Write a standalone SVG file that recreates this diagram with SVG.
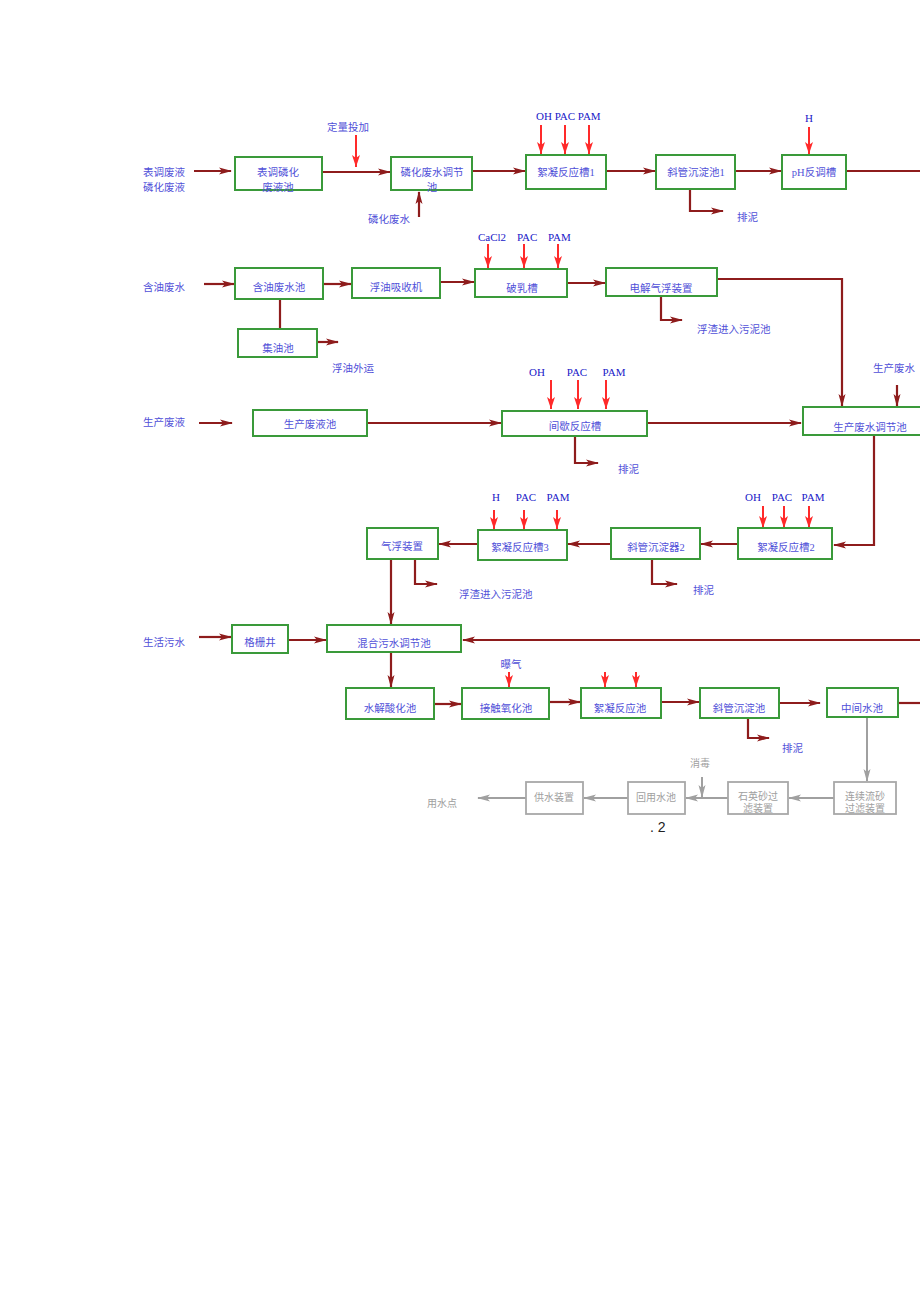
<svg xmlns="http://www.w3.org/2000/svg" width="920" height="1302" viewBox="0 0 920 1302">
<defs>
<style>
.bx{fill:#fff;stroke:#3a9a3a;stroke-width:2}
.gb{fill:#fff;stroke:#a8a8a8;stroke-width:1.8}
.t{font-family:"Liberation Serif","Noto Sans CJK SC",serif;font-size:10.5px;fill:#5050d8}
.c{text-anchor:middle}
.l{font-family:"Liberation Serif","Noto Sans CJK SC",serif;font-size:11px;fill:#2020c8}
.g{font-family:"Liberation Serif","Noto Sans CJK SC",serif;font-size:10px;fill:#a0a0a0;text-anchor:middle}
.d{fill:none;stroke:#8e1c1c;stroke-width:2.2;marker-end:url(#ad)}
.dn{fill:none;stroke:#8e1c1c;stroke-width:2.2}
.r{fill:none;stroke:#ff2a2a;stroke-width:2;marker-end:url(#ar)}
.gr{fill:none;stroke:#a0a0a0;stroke-width:2;marker-end:url(#ag)}
</style>
<marker id="ad" markerUnits="userSpaceOnUse" markerWidth="13" markerHeight="8" refX="12" refY="4" orient="auto"><path d="M0,0.5 L13,4 L0,7.5 L3,4 z" fill="#8e1c1c"/></marker>
<marker id="ar" markerUnits="userSpaceOnUse" markerWidth="10" markerHeight="10" refX="12" refY="4" orient="auto"><path d="M0,0 L12,4 L0,8 L3,4 z" fill="#ff2a2a"/></marker>
<marker id="ag" markerUnits="userSpaceOnUse" markerWidth="13" markerHeight="8" refX="12" refY="4" orient="auto"><path d="M0,0.5 L13,4 L0,7.5 L3,4 z" fill="#a0a0a0"/></marker>
</defs>
<rect width="920" height="1302" fill="#fff"/>

<g id="connectors">
<path class="d" d="M194,171 H231"/>
<path class="d" d="M322,172 H390"/>
<path class="r" d="M356,135 V167"/>
<path class="d" d="M419,217 V192"/>
<path class="d" d="M472,171 H525"/>
<path class="r" d="M541,125 V154"/>
<path class="r" d="M565,125 V154"/>
<path class="r" d="M589,125 V154"/>
<path class="d" d="M606,171 H655"/>
<path class="d" d="M690,189 V211 H723"/>
<path class="d" d="M735,171 H781"/>
<path class="r" d="M809,127 V154"/>
<path class="dn" d="M846,171 H920"/>

<path class="d" d="M204,284 H234"/>
<path class="d" d="M323,284 H351"/>
<path class="d" d="M440,282 H474"/>
<path class="r" d="M488,244 V268"/>
<path class="r" d="M524,244 V268"/>
<path class="r" d="M558,244 V268"/>
<path class="d" d="M567,283 H605"/>
<path class="dn" d="M280,299 V329"/>
<path class="d" d="M317,342 H338"/>
<path class="d" d="M661,296 V320 H682"/>
<path class="d" d="M717,279 H842 V406"/>

<path class="d" d="M199,423 H232"/>
<path class="d" d="M367,423 H501"/>
<path class="r" d="M551,380 V409"/>
<path class="r" d="M578,380 V409"/>
<path class="r" d="M606,380 V409"/>
<path class="d" d="M575,436 V463 H598"/>
<path class="d" d="M647,423 H801"/>
<path class="d" d="M897,385 V406"/>
<path class="d" d="M874,435 V545 H834"/>

<path class="d" d="M738,544 H701"/>
<path class="d" d="M611,544 H568"/>
<path class="d" d="M478,544 H439"/>
<path class="r" d="M494,510 V529"/>
<path class="r" d="M524,510 V529"/>
<path class="r" d="M557,510 V529"/>
<path class="r" d="M763,506 V528"/>
<path class="r" d="M784,506 V528"/>
<path class="r" d="M809,506 V528"/>
<path class="d" d="M652,559 V584 H677"/>
<path class="d" d="M415,559 V584 H437"/>
<path class="d" d="M391,559 V624"/>

<path class="d" d="M199,637 H231"/>
<path class="d" d="M288,640 H326"/>
<path class="d" d="M920,640 H463"/>
<path class="d" d="M391,652 V687"/>
<path class="r" d="M509,672 V687"/>
<path class="d" d="M434,704 H461"/>
<path class="d" d="M549,702 H580"/>
<path class="r" d="M605,672 V687"/>
<path class="r" d="M636,672 V687"/>
<path class="d" d="M661,702 H699"/>
<path class="d" d="M748,718 V738 H769"/>
<path class="d" d="M779,703 H820"/>
<path class="dn" d="M898,703 H920"/>

<path class="gr" d="M867,717 V781"/>
<path class="gr" d="M834,798 H789"/>
<path class="gr" d="M728,798 H686"/>
<path class="gr" d="M702,777 V797"/>
<path class="gr" d="M628,798 H584"/>
<path class="gr" d="M526,798 H478"/>
</g>

<g id="labels">
<text class="t" x="143" y="176">表调废液</text>
<text class="t" x="143" y="191">磷化废液</text>
<text class="t c" x="348" y="131">定量投加</text>
<text class="t c" x="389" y="223">磷化废水</text>
<text class="l" x="536" y="120">OH PAC PAM</text>
<text class="l c" x="809" y="122">H</text>
<text class="t" x="737" y="221">排泥</text>
<text class="t" x="143" y="291">含油废水</text>
<text class="l" x="478" y="241">CaCl2</text>
<text class="l" x="517" y="241">PAC</text>
<text class="l" x="548" y="241">PAM</text>
<text class="t" x="332" y="372">浮油外运</text>
<text class="t" x="697" y="333">浮渣进入污泥池</text>
<text class="t" x="143" y="426">生产废液</text>
<text class="l c" x="537" y="376">OH</text>
<text class="l c" x="577" y="376">PAC</text>
<text class="l c" x="614" y="376">PAM</text>
<text class="t" x="873" y="372">生产废水</text>
<text class="t" x="618" y="473">排泥</text>
<text class="l c" x="496" y="501">H</text>
<text class="l c" x="526" y="501">PAC</text>
<text class="l c" x="558" y="501">PAM</text>
<text class="l c" x="753" y="501">OH</text>
<text class="l c" x="782" y="501">PAC</text>
<text class="l c" x="813" y="501">PAM</text>
<text class="t" x="459" y="598">浮渣进入污泥池</text>
<text class="t" x="693" y="594">排泥</text>
<text class="t" x="143" y="646">生活污水</text>
<text class="t c" x="511" y="668">曝气</text>
<text class="t" x="782" y="752">排泥</text>
<text class="g" x="700" y="767">消毒</text>
<text class="g" x="442" y="807">用水点</text>
<text x="650" y="832" style="font-family:'Liberation Sans',sans-serif;font-size:14px;fill:#222">. 2</text>
</g>

<g id="n1"><rect class="bx" x="235" y="157" width="87" height="33"/><text class="t c" x="278" y="176">表调磷化</text><text class="t c" x="278" y="191">废液池</text></g>
<g id="n2"><rect class="bx" x="391" y="157" width="81" height="33"/><text class="t c" x="432" y="176">磷化废水调节</text><text class="t c" x="432" y="191">池</text></g>
<g id="n3"><rect class="bx" x="526" y="155" width="80" height="34"/><text class="t c" x="566" y="176">絮凝反应槽1</text></g>
<g id="n4"><rect class="bx" x="656" y="155" width="79" height="34"/><text class="t c" x="696" y="176">斜管沉淀池1</text></g>
<g id="n5"><rect class="bx" x="782" y="155" width="64" height="34"/><text class="t c" x="814" y="176">pH反调槽</text></g>

<g id="n6"><rect class="bx" x="235" y="268" width="88" height="31"/><text class="t c" x="279" y="291">含油废水池</text></g>
<g id="n7"><rect class="bx" x="352" y="268" width="88" height="30"/><text class="t c" x="396" y="291">浮油吸收机</text></g>
<g id="n8"><rect class="bx" x="475" y="269" width="92" height="28"/><text class="t c" x="522" y="292">破乳槽</text></g>
<g id="n9"><rect class="bx" x="606" y="268" width="111" height="28"/><text class="t c" x="661" y="292">电解气浮装置</text></g>
<g id="n10"><rect class="bx" x="238" y="329" width="79" height="28"/><text class="t c" x="278" y="352">集油池</text></g>

<g id="n11"><rect class="bx" x="253" y="410" width="114" height="26"/><text class="t c" x="310" y="428">生产废液池</text></g>
<g id="n12"><rect class="bx" x="502" y="411" width="145" height="25"/><text class="t c" x="575" y="430">间歇反应槽</text></g>
<g id="n13"><rect class="bx" x="803" y="407" width="130" height="28"/><text class="t c" x="870" y="431">生产废水调节池</text></g>

<g id="n14"><rect class="bx" x="367" y="528" width="71" height="31"/><text class="t c" x="402" y="550">气浮装置</text></g>
<g id="n15"><rect class="bx" x="478" y="530" width="89" height="30"/><text class="t c" x="520" y="551">絮凝反应槽3</text></g>
<g id="n16"><rect class="bx" x="611" y="528" width="89" height="31"/><text class="t c" x="656" y="551">斜管沉淀器2</text></g>
<g id="n17"><rect class="bx" x="738" y="528" width="94" height="31"/><text class="t c" x="786" y="551">絮凝反应槽2</text></g>

<g id="n18"><rect class="bx" x="232" y="625" width="56" height="28"/><text class="t c" x="260" y="646">格栅井</text></g>
<g id="n19"><rect class="bx" x="327" y="625" width="134" height="27"/><text class="t c" x="394" y="647">混合污水调节池</text></g>
<g id="n20"><rect class="bx" x="346" y="688" width="88" height="31"/><text class="t c" x="390" y="712">水解酸化池</text></g>
<g id="n21"><rect class="bx" x="462" y="688" width="87" height="31"/><text class="t c" x="506" y="712">接触氧化池</text></g>
<g id="n22"><rect class="bx" x="581" y="688" width="80" height="30"/><text class="t c" x="620" y="712">絮凝反应池</text></g>
<g id="n23"><rect class="bx" x="700" y="688" width="79" height="30"/><text class="t c" x="739" y="712">斜管沉淀池</text></g>
<g id="n24"><rect class="bx" x="827" y="688" width="71" height="29"/><text class="t c" x="862" y="712">中间水池</text></g>

<g id="n25"><rect class="gb" x="834" y="782" width="62" height="32"/><text class="g" x="865" y="800">连续流砂</text><text class="g" x="865" y="812">过滤装置</text></g>
<g id="n26"><rect class="gb" x="728" y="782" width="60" height="32"/><text class="g" x="758" y="800">石英砂过</text><text class="g" x="758" y="812">滤装置</text></g>
<g id="n27"><rect class="gb" x="628" y="782" width="57" height="32"/><text class="g" x="656" y="801">回用水池</text></g>
<g id="n28"><rect class="gb" x="526" y="782" width="57" height="32"/><text class="g" x="554" y="801">供水装置</text></g>
</svg>
